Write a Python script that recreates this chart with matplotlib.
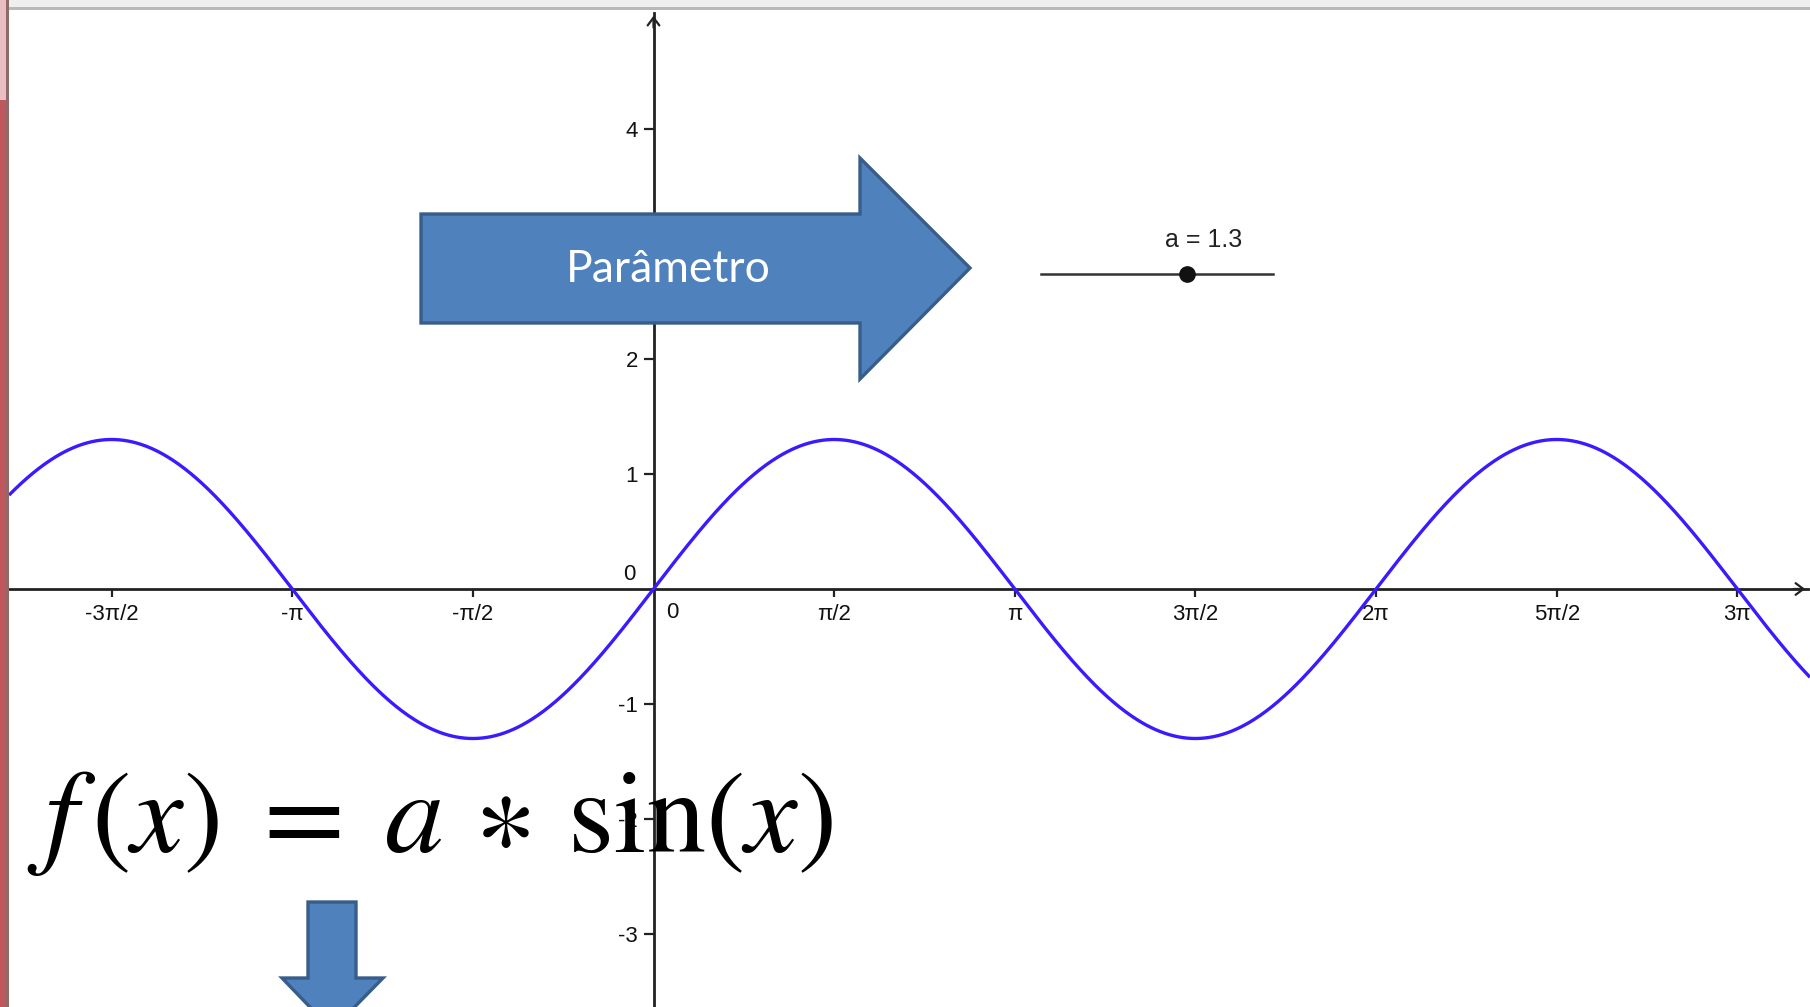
import numpy as np
import matplotlib
matplotlib.use("Agg")
import matplotlib.pyplot as plt
from matplotlib.patches import Polygon, Rectangle

plt.rcParams["font.family"] = ["Liberation Sans", "DejaVu Sans"]
plt.rcParams["axes.unicode_minus"] = False
plt.rcParams["mathtext.fontset"] = "stix"

# data
a_value = 1.3
slider_min, slider_max = -5, 5
x_tick_vals = np.array([-1.5, -1, -0.5, 0.5, 1, 1.5, 2, 2.5, 3]) * np.pi
x_tick_labels = ["-3π/2", "-π", "-π/2", "π/2", "π", "3π/2", "2π", "5π/2", "3π"]
y_tick_vals = [-3, -2, -1, 1, 2, 3, 4]
y_tick_labels = ["-3", "-2", "-1", "1", "2", "3", "4"]

W, H = 1810, 1007
ORIGIN = (653.5, 589.0)   # pixel position of (0, 0)
UNIT = 115.0              # pixels per unit on both axes
LEFT, TOP = 9, 9          # window frame


def px_to_data(px, py):
    return (px - ORIGIN[0]) / UNIT, (ORIGIN[1] - py) / UNIT


def fig_xy(px, py):
    return px / W, 1 - py / H


fig = plt.figure(figsize=(W / 100, H / 100), dpi=100)
fig.patch.set_facecolor("white")

ax = fig.add_axes([LEFT / W, 0, 1 - LEFT / W, 1 - TOP / H])
x0, y1 = px_to_data(LEFT, TOP)
x1, y0 = px_to_data(W, H)
ax.set_xlim(x0, x1)
ax.set_ylim(y0, y1)
ax.set_facecolor("white")

# axes through the origin
axis_col = "#222222"
for side in ("top", "right"):
    ax.spines[side].set_visible(False)
ax.spines["left"].set_position(("data", 0))
ax.spines["bottom"].set_position(("data", 0))
for side in ("left", "bottom"):
    ax.spines[side].set_color(axis_col)
    ax.spines[side].set_linewidth(2.0)
x_tip, _ = px_to_data(1808, 0)
_, y_tip = px_to_data(0, 13)
ax.spines["left"].set_bounds(y0, y_tip)
ax.spines["bottom"].set_bounds(x0, x_tip)
ax.annotate("", xy=(0, y_tip), xytext=(0, y_tip - 0.15),
            arrowprops=dict(arrowstyle="->,head_length=0.4,head_width=0.3",
                            lw=1.6, color=axis_col, mutation_scale=14))
ax.annotate("", xy=(x_tip, 0), xytext=(x_tip - 0.15, 0),
            arrowprops=dict(arrowstyle="->,head_length=0.4,head_width=0.3",
                            lw=1.6, color=axis_col, mutation_scale=14))

ax.set_xticks(x_tick_vals)
ax.set_xticklabels(x_tick_labels)
ax.set_yticks(y_tick_vals)
ax.set_yticklabels(y_tick_labels)
ax.tick_params(axis="x", direction="out", length=6, width=1.6, color=axis_col,
               pad=5, labelsize=16, labelcolor="#111111")
ax.tick_params(axis="y", direction="out", length=7, width=1.6, color=axis_col,
               pad=4, labelsize=16, labelcolor="#111111")
ax.annotate("0", xy=(0, 0), xytext=(-24, 14), textcoords="offset pixels",
            fontsize=16, color="#111111", ha="center", va="center")
ax.annotate("0", xy=(0, 0), xytext=(19, -24), textcoords="offset pixels",
            fontsize=16, color="#111111", ha="center", va="center")

# the function curve
xs = np.linspace(x0, x1, 1200)
ax.plot(xs, a_value * np.sin(xs), color="#3a1aff", lw=2.4, zorder=3,
        solid_capstyle="butt")

# slider for a
sx0, sy = px_to_data(1041, 274)
sx1, _ = px_to_data(1273, 274)
ax.plot([sx0, sx1], [sy, sy], color="#333333", lw=1.8, zorder=4)
dot_x = sx0 + (a_value - slider_min) / (slider_max - slider_min) * (sx1 - sx0)
ax.plot([dot_x], [sy], "o", color="#111111", ms=11, zorder=5)
lx, ly = px_to_data(1204, 240)
ax.text(lx, ly, f"a = {a_value}", fontsize=18, color="#222222",
        ha="center", va="center", zorder=5)

# PowerPoint-style block arrows
right_arrow = [(421, 214), (860, 214), (860, 158), (970, 268),
               (860, 379), (860, 323), (421, 323)]
fig.add_artist(Polygon([fig_xy(*p) for p in right_arrow], closed=True,
                       facecolor="#4f81bd", edgecolor="#385d8a", lw=2.4,
                       transform=fig.transFigure, zorder=10))
fig.text(*fig_xy(668, 270), "Parâmetro", family=["Lato", "DejaVu Sans"],
         fontsize=32, color="white", ha="center", va="center", zorder=11)

down_arrow = [(308, 902), (356, 902), (356, 978), (383, 978),
              (332, 1030), (282, 978), (308, 978)]
fig.add_artist(Polygon([fig_xy(*p) for p in down_arrow], closed=True,
                       facecolor="#4f81bd", edgecolor="#385d8a", lw=2.4,
                       transform=fig.transFigure, zorder=10, clip_on=False))

# formula
fig.text(*fig_xy(27, 852), r"$f\,(x)\;=\;a\,\ast\,\mathrm{sin}(x)$",
         fontsize=85, color="black", ha="left", va="baseline", zorder=12)

# window frame: grey top bar and red left strip
fig.add_artist(Rectangle((0, 1 - 8 / H), 1, 8 / H, transform=fig.transFigure,
                         facecolor="#efefef", edgecolor="none", zorder=20))
fig.add_artist(Rectangle((0, 1 - 9.5 / H), 1, 2 / H, transform=fig.transFigure,
                         facecolor="#b9b9b9", edgecolor="none", zorder=21))
fig.add_artist(Rectangle((0, 0), 6 / W, 1 - 100 / H, transform=fig.transFigure,
                         facecolor="#c0575c", edgecolor="none", zorder=22))
fig.add_artist(Rectangle((0, 1 - 100 / H), 6 / W, 100 / H,
                         transform=fig.transFigure,
                         facecolor="#e8c0c3", edgecolor="none", zorder=22))
fig.add_artist(Rectangle((6 / W, 0), 2.5 / W, 1, transform=fig.transFigure,
                         facecolor="#8e6a6b", edgecolor="none", zorder=23))

fig.savefig("out.png", dpi=100)
